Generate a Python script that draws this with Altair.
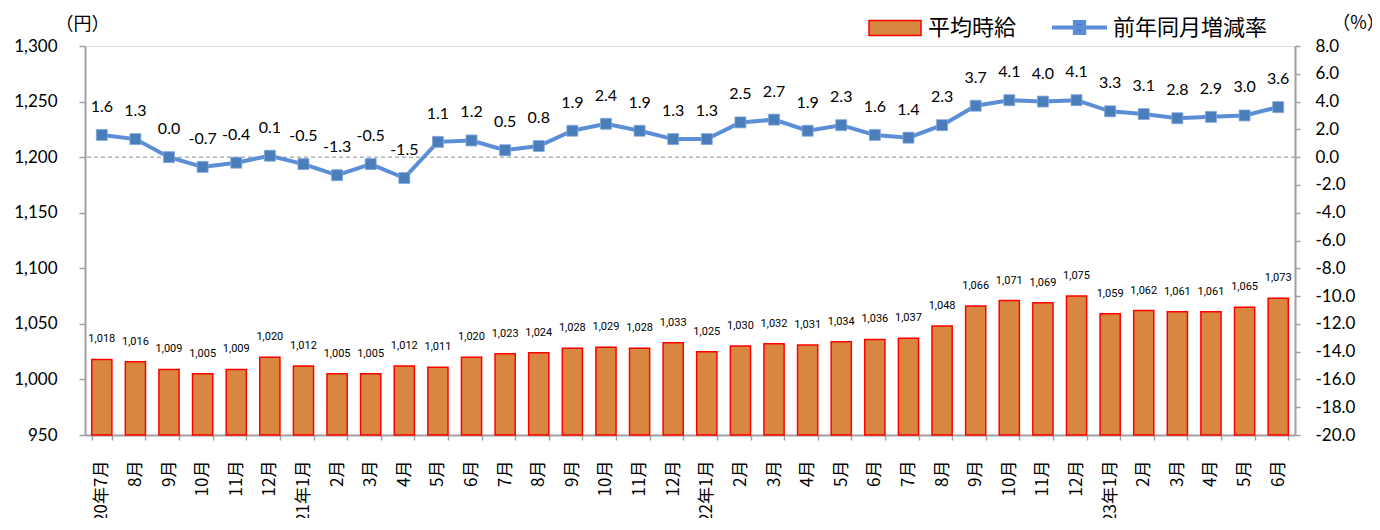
import altair as alt
import pandas as pd

# ---- data ----
months = [
    "2020年7月", "2020年8月", "2020年9月", "2020年10月", "2020年11月", "2020年12月",
    "2021年1月", "2021年2月", "2021年3月", "2021年4月", "2021年5月", "2021年6月",
    "2021年7月", "2021年8月", "2021年9月", "2021年10月", "2021年11月", "2021年12月",
    "2022年1月", "2022年2月", "2022年3月", "2022年4月", "2022年5月", "2022年6月",
    "2022年7月", "2022年8月", "2022年9月", "2022年10月", "2022年11月", "2022年12月",
    "2023年1月", "2023年2月", "2023年3月", "2023年4月", "2023年5月", "2023年6月",
]
wage = [
    1018, 1016, 1009, 1005, 1009, 1020,
    1012, 1005, 1005, 1012, 1011, 1020,
    1023, 1024, 1028, 1029, 1028, 1033,
    1025, 1030, 1032, 1031, 1034, 1036,
    1037, 1048, 1066, 1071, 1069, 1075,
    1059, 1062, 1061, 1061, 1065, 1073,
]
rate = [
    1.6, 1.3, 0.0, -0.7, -0.4, 0.1,
    -0.5, -1.3, -0.5, -1.5, 1.1, 1.2,
    0.5, 0.8, 1.9, 2.4, 1.9, 1.3,
    1.3, 2.5, 2.7, 1.9, 2.3, 1.6,
    1.4, 2.3, 3.7, 4.1, 4.0, 4.1,
    3.3, 3.1, 2.8, 2.9, 3.0, 3.6,
]
wage_ticks = [950, 1000, 1050, 1100, 1150, 1200, 1250, 1300]
rate_ticks = [-20, -18, -16, -14, -12, -10, -8, -6, -4, -2, 0, 2, 4, 6, 8]
wage_floor = 950
bar_name = "平均時給"
line_name = "前年同月増減率"

df = pd.DataFrame({"month": months, "wage": wage, "rate": rate})
zero_df = pd.DataFrame({"rate": [0]})

JP = "Noto Sans CJK JP"
NUM = "Lato"
SMALL = "Roboto"
AXIS_GRAY = "#A0A0A0"
BAR_FILL = "#D98640"
LINE_COLOR = "#5B8ED6"
POINT_COLOR = "#4A7EBB"

label_expr = (
    "!datum.value ? '' : "
    "((indexof(datum.value, '年1月') >= 0 || datum.value == '2020年7月')"
    " ? datum.value : split(datum.value, '年')[1])"
)

x_enc = alt.X(
    "month:N",
    sort=None,
    scale=alt.Scale(paddingInner=0.4, paddingOuter=0.2),
    axis=alt.Axis(
        title=None,
        labelExpr=label_expr,
        labelAngle=270,
        labelFont=JP,
        labelFontSize=17,
        labelColor="#000000",
        labelPadding=20,
        labelOverlap=False,
        tickBand="extent",
        tickSize=5,
        tickColor=AXIS_GRAY,
        tickWidth=1.5,
        domainColor=AXIS_GRAY,
        domainWidth=2,
    ),
)

base = alt.Chart(df).encode(x=x_enc)

# ---- bars (left axis) ----
y_wage = alt.Y(
    "wage:Q",
    scale=alt.Scale(domain=[950, 1300], nice=False, zero=False),
    axis=alt.Axis(
        values=wage_ticks,
        format=",.0f",
        grid=False,
        labelOverlap=False,
        title="（円）",
        titleAngle=0,
        titleX=-3,
        titleY=-22,
        titleAlign="center",
        titleBaseline="middle",
        titleFont=JP,
        titleFontSize=18,
        titleFontWeight="normal",
        titleColor="#000000",
        labelFont=NUM,
        labelFontSize=17,
        labelColor="#000000",
        labelPadding=22,
        tickSize=6,
        tickColor=AXIS_GRAY,
        tickWidth=1.5,
        domainColor=AXIS_GRAY,
        domainWidth=2,
    ),
)

bars = base.mark_bar(stroke="#FF0000", strokeWidth=1.5, opacity=1).encode(
    y=y_wage,
    y2=alt.datum(wage_floor),
    color=alt.Color(
        "series:N",
        scale=alt.Scale(domain=[bar_name], range=[BAR_FILL]),
        legend=alt.Legend(
            title=None,
            orient="none",
            legendX=783,
            legendY=-45,
            symbolType="M-1,-0.29H1V0.29H-1Z",
            symbolSize=2704,
            symbolStrokeColor="#FF0000",
            symbolStrokeWidth=1.5,
            labelFont=JP,
            labelFontSize=22,
            labelColor="#000000",
            labelOffset=6,
        ),
    ),
).transform_calculate(series=f"'{bar_name}'")

bar_labels = base.mark_text(
    dy=-20, baseline="middle", font=SMALL, fontSize=11, color="#000000"
).encode(y=y_wage, text=alt.Text("wage:Q", format=","))

bar_layer = alt.layer(bars, bar_labels)

# ---- line (right axis) ----
y_rate = alt.Y(
    "rate:Q",
    scale=alt.Scale(domain=[-20, 8], nice=False, zero=False),
    axis=alt.Axis(
        orient="right",
        values=rate_ticks,
        format=".1f",
        grid=False,
        labelOverlap=False,
        title="（%）",
        titleAngle=0,
        titleX=63,
        titleY=-23,
        titleAlign="center",
        titleBaseline="middle",
        titleFont=JP,
        titleFontSize=18,
        titleFontWeight="normal",
        titleColor="#000000",
        labelFont=NUM,
        labelFontSize=17,
        labelColor="#000000",
        labelAlign="left",
        labelPadding=15,
        tickSize=5,
        tickColor=AXIS_GRAY,
        tickWidth=1.5,
        domainColor=AXIS_GRAY,
        domainWidth=2,
    ),
)

zero_rule = alt.Chart(zero_df).mark_rule(
    color="#8C8C8C", strokeDash=[4, 3], strokeWidth=1
).encode(y=y_rate)

line = base.mark_line(strokeWidth=4).encode(
    y=y_rate,
    color=alt.Color(
        "series:N",
        scale=alt.Scale(domain=[line_name], range=[LINE_COLOR]),
        legend=alt.Legend(
            title=None,
            orient="none",
            legendX=965,
            legendY=-48,
            symbolType="M-1,0H1M-0.17,-0.2H0.17V0.2H-0.17Z",
            symbolSize=3025,
            symbolStrokeColor=LINE_COLOR,
            symbolFillColor=POINT_COLOR,
            symbolStrokeWidth=4,
            labelFont=JP,
            labelFontSize=22,
            labelColor="#000000",
            labelOffset=4,
        ),
    ),
).transform_calculate(series=f"'{line_name}'")

points = base.mark_square(
    size=120, color=POINT_COLOR, opacity=1, stroke="#7FA7DC", strokeWidth=0.8
).encode(y=y_rate)

rate_labels = base.mark_text(
    dy=-28, baseline="middle", font=NUM, fontSize=16, color="#000000"
).encode(y=y_rate, text=alt.Text("rate:Q", format=".1f"))

line_layer = alt.layer(zero_rule, line, points, rate_labels)

chart = (
    alt.layer(bar_layer, line_layer)
    .resolve_scale(y="independent", color="independent")
    .properties(
        width=1210,
        height=389,
        autosize=alt.AutoSizeParams(type="none"),
        padding={"left": 77, "top": 38, "right": 77, "bottom": 83},
    )
    .configure_view(stroke="#A6A6A6", strokeWidth=1.5)
    .configure(
        locale=alt.Locale(
            number=alt.NumberLocale(
                decimal=".", thousands=",", grouping=[3], currency=["", ""], minus="-"
            )
        )
    )
)

chart.save("out.html", embed_options={"renderer": "svg", "actions": False})
